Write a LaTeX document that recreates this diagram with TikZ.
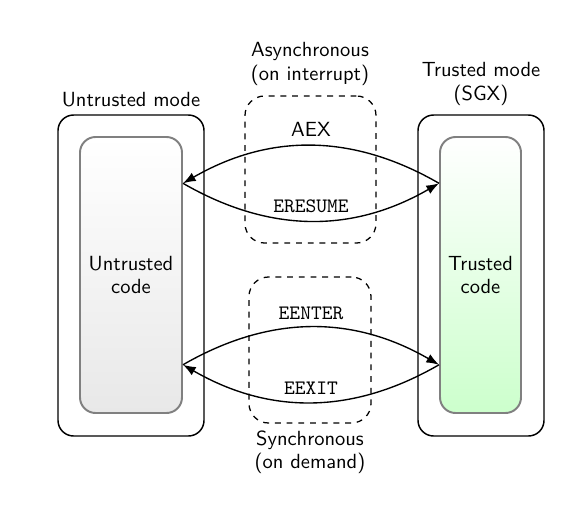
\documentclass[tikz,border=0pt]{standalone}
\usetikzlibrary{fit,arrows.meta}
\begin{document}
\begin{tikzpicture}[x=0.5125pt,y=-0.5125pt,font=\sffamily\fontsize{10.5}{12}\selectfont,
  outerbox/.style={draw=black,line width=0.75pt,rounded corners=8pt,inner sep=0pt},
  innerbox/.style={draw=gray,line width=1pt,rounded corners=8pt,inner sep=0pt,align=center},
  dashbox/.style={draw=black,dashed,line width=0.65pt,rounded corners=10pt,inner sep=0pt},
  lbl/.style={align=center,inner sep=0pt},
  flow/.style={-{Latex[length=6.5pt,width=4.8pt]},line width=0.7pt},
  tlbl/.style={midway,above=0.3pt,font=\ttfamily\fontsize{10.5}{12}\selectfont}]
\useasboundingbox (0,0) rectangle (573,513);
% outer boxes
\node[outerbox,fit={(58,115) (204,436)}] (um) {};
\node[outerbox,fit={(418,115) (544,436)}] (tm) {};
% inner boxes
\node[innerbox,top color=white,bottom color=gray!18,fit={(80,137) (182,413)}] (uc) {};
\node[lbl] (uct) at (uc.center) {Untrusted\\code};
\node[innerbox,top color=white,bottom color=green!20,fit={(440,137) (521,413)}] (tc) {};
\node[lbl] (tct) at (tc.center) {Trusted\\code};
% dashed boxes
\node[dashbox,fit={(245,96) (376,243)}] (async) {};
\node[dashbox,fit={(249,277) (371,423)}] (sync) {};
% titles
\node[lbl] (umt) at (131,100) {Untrusted mode};
\node[lbl] (tmt) at (481,84) {Trusted mode\\(SGX)};
\node[lbl] (asyt) at (310,64) {Asynchronous\\(on interrupt)};
\node[lbl] (synt) at (310,452) {Synchronous\\(on demand)};
% anchor points
\coordinate (ua) at ([yshift=47pt]uc.east);
\coordinate (ta) at ([yshift=47pt]tc.west);
\coordinate (ub) at ([yshift=-46pt]uc.east);
\coordinate (tb) at ([yshift=-46pt]tc.west);
% arrows
\draw[flow] (ta) to[bend right=30] node[above=1pt,midway] {AEX} (ua);
\draw[flow] (ua) to[bend right=30] node[tlbl] {ERESUME} (ta);
\draw[flow] (ub) to[bend left=30] node[tlbl] {EENTER} (tb);
\draw[flow] (tb) to[bend left=30] node[tlbl] {EEXIT} (ub);
\end{tikzpicture}
\end{document}
